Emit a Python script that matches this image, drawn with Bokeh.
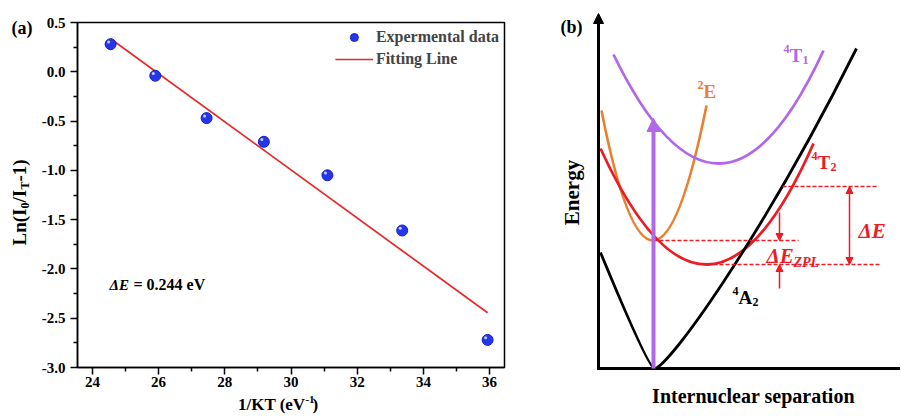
import math
from bokeh.plotting import figure
from bokeh.layouts import row, column
from bokeh.models import (Range1d, FixedTicker, NumeralTickFormatter, Label, Arrow,
                          NormalHead, Legend, LegendItem)
from bokeh.embed import file_html
from bokeh.resources import INLINE

# ---------------- panel (a) data ----------------
inv_kt = [24.55, 25.90, 27.45, 29.18, 31.10, 33.36, 35.94]
ln_ratio = [0.28, -0.04, -0.47, -0.71, -1.05, -1.61, -2.72]
fit_x = [24.55, 35.94]
fit_y = [0.335, -2.445]
x_major = [24, 26, 28, 30, 32, 34, 36]
x_minor = [25, 27, 29, 31, 33, 35]
y_major = [0.5, 0.0, -0.5, -1.0, -1.5, -2.0, -2.5, -3.0]
y_minor = [0.25, -0.25, -0.75, -1.25, -1.75, -2.25, -2.75]
delta_e_text = "= 0.244 eV"

# ---------------- panel (b) schematic data (separation, energy) ----------------
# parabolic curves as quadratic Bezier: start, control, end
t1_curve = dict(x0=[15], y0=[314], cx=[122], cy=[94], x1=[225], y1=[318])
e2_curve = dict(x0=[3], y0=[258], cx=[54.5], cy=[-4.5], x1=[108], y1=[263])
t2_curve = dict(x0=[2], y0=[220], cx=[109.5], cy=[-14.5], x1=[215], y1=[225])
a2_left = dict(x0=[2], y0=[116], cx=[50], cy=[0], x1=[56], y1=[0])
a2_right = dict(x0=[56], y0=[0], cx0=[69], cy0=[0], cx1=[162], cy1=[128], x1=[258], y1=[320])
# dashed levels: x start, x end, energy
lvl_x0 = [184, 55, 109]
lvl_x1 = [280, 200, 281]
lvl_y = [182, 128, 104]
excite_x, excite_y0, excite_y1 = 55, 0, 250

SERIF = "Liberation Serif"
PURPLE = "#B168E8"
ORANGE = "#E9802F"
RED = "#EC1C24"
BLUE = "#2536EA"
ang = math.pi / 2


def bare(width, height, xr, yr):
    f = figure(width=width, height=height, x_range=Range1d(*xr), y_range=Range1d(*yr),
               output_backend="svg", toolbar_location=None, tools="",
               x_axis_type=None, y_axis_type=None,
               min_border_left=0, min_border_right=0, min_border_top=0, min_border_bottom=0)
    f.grid.visible = False
    f.outline_line_color = None
    return f


def lab(p, x, y, text, size, style="bold", color="black", align="left",
        baseline="alphabetic", angle=0.0):
    p.add_layout(Label(x=x, y=y, text=text, text_font=SERIF, text_font_size=size,
                       text_font_style=style, text_color=color, text_align=align,
                       text_baseline=baseline, angle=angle))


# ================= panel (a) =================
XR = (23.55, 36.45)
YR = (-3.0, 0.5)
p1 = figure(width=517, height=393, x_range=Range1d(*XR), y_range=Range1d(*YR),
            output_backend="svg", toolbar_location=None, tools="",
            min_border_left=41, min_border_right=49, min_border_top=22, min_border_bottom=26)
p1.xgrid.visible = False
p1.ygrid.visible = False
p1.outline_line_color = "black"
p1.outline_line_width = 1.5
p1.background_fill_color = "white"

p1.xaxis.ticker = FixedTicker(ticks=x_major, minor_ticks=x_minor)
p1.yaxis.ticker = FixedTicker(ticks=y_major, minor_ticks=y_minor)
p1.yaxis.formatter = NumeralTickFormatter(format="0.0")
for ax in (p1.xaxis[0], p1.yaxis[0]):
    ax.axis_line_width = 1.5
    ax.axis_line_color = "black"
    ax.major_tick_line_width = 1.5
    ax.minor_tick_line_width = 1.5
    ax.major_tick_out = 7
    ax.major_tick_in = 0
    ax.minor_tick_out = 4
    ax.minor_tick_in = 0
    ax.major_label_text_font = SERIF
    ax.major_label_text_font_style = "bold"
    ax.major_label_text_font_size = "15px"
    ax.major_label_text_color = "black"
p1.xaxis.major_label_standoff = 2
p1.yaxis.major_label_standoff = 5

r_fit = p1.line(fit_x, fit_y, line_color="#E8262A", line_width=1.7)
r_sc = p1.scatter(inv_kt, ln_ratio, size=11, fill_color=BLUE, line_color="#1523C0", line_width=1)
p1.scatter([v - 0.06 for v in inv_kt], [v + 0.022 for v in ln_ratio], size=3,
           fill_color="#C8D0FF", line_color=None)

legend = Legend(items=[LegendItem(label="Expermental data", renderers=[r_sc]),
                       LegendItem(label="Fitting Line", renderers=[r_fit])],
                location="top_right", margin=0, padding=5, spacing=2,
                glyph_width=38, glyph_height=20, label_height=20, label_standoff=3,
                label_text_font=SERIF, label_text_font_style="bold",
                label_text_font_size="16px", border_line_alpha=0, background_fill_alpha=0)
p1.add_layout(legend)


def ax_x(px):
    return XR[0] + (px - 77) * (XR[1] - XR[0]) / 427.0


def ax_y(py):
    return YR[1] - (py - 22) * (YR[1] - YR[0]) / 345.0


lab(p1, ax_x(109), ax_y(284), "\u0394E", "15px", style="bold italic")
lab(p1, ax_x(133), ax_y(284), delta_e_text, "16px")

# strip left of panel (a): "(a)" and rotated y label Ln(I0/IT-1) (page pixel coords)
ys = bare(36, 416, (0, 36), (416, 0))
lab(ys, 11, 27, "(a)", "18px")
yl_x = 19
lab(ys, yl_x, 245, "Ln(I", "19px", baseline="middle", angle=ang)
lab(ys, yl_x + 5, 208, "0", "12px", baseline="middle", angle=ang)
lab(ys, yl_x, 202, "/I", "19px", baseline="middle", angle=ang)
lab(ys, yl_x + 5, 189, "T", "12px", baseline="middle", angle=ang)
lab(ys, yl_x, 181, "-1)", "19px", baseline="middle", angle=ang)

# strip below panel (a): x label 1/KT (eV^-1)
xs = bare(517, 23, (36, 553), (416, 393))
lab(xs, 312, 404, "1/KT (eV", "17px", align="right", baseline="middle")
lab(xs, 312, 399, "-1", "11px", baseline="middle")
lab(xs, 320.5, 404, ")", "17px", baseline="middle")

# ================= panel (b) =================
p2 = bare(347, 416, (-45, 302), (-48, 368))

p2.quadratic(**e2_curve, line_color=ORANGE, line_width=2.6)
p2.quadratic(**t1_curve, line_color=PURPLE, line_width=2.8)
p2.quadratic(**t2_curve, line_color=RED, line_width=2.8)
p2.quadratic(**a2_left, line_color="black", line_width=2.8)
p2.bezier(**a2_right, line_color="black", line_width=2.8)

p2.segment(x0=lvl_x0, y0=lvl_y, x1=lvl_x1, y1=lvl_y, line_color=RED, line_width=1.5,
           line_dash="4 2")

# axes of the diagram
p2.segment(x0=[-1.5], y0=[0], x1=[302], y1=[0], line_color="black", line_width=3)
p2.add_layout(Arrow(x_start=0, y_start=-1.5, x_end=0, y_end=355, line_color="black",
                    line_width=3,
                    end=NormalHead(size=10, fill_color="black", line_color="black", line_width=1)))

# excitation arrow
p2.add_layout(Arrow(x_start=excite_x, y_start=excite_y0, x_end=excite_x, y_end=excite_y1,
                    line_color=PURPLE, line_width=4,
                    end=NormalHead(size=13, fill_color=PURPLE, line_color=PURPLE, line_width=1)))

# red energy-gap arrows
head = dict(size=7, fill_color=RED, line_color=RED, line_width=1)
p2.add_layout(Arrow(x_start=251, y_start=lvl_y[2], x_end=251, y_end=lvl_y[0],
                    line_color=RED, line_width=1.5,
                    start=NormalHead(**head), end=NormalHead(**head)))
p2.add_layout(Arrow(x_start=181, y_start=156, x_end=181, y_end=lvl_y[1],
                    line_color=RED, line_width=1.5, end=NormalHead(**head)))
p2.add_layout(Arrow(x_start=181, y_start=80, x_end=181, y_end=lvl_y[2],
                    line_color=RED, line_width=1.5, end=NormalHead(**head)))

# texts
lab(p2, -38, 342, "(b)", "18px")
lab(p2, -27, 176, "Energy", "21px", align="center", baseline="middle", angle=ang)
lab(p2, 155, -27, "Internuclear separation", "20px", align="center", baseline="middle")


def term(x, y, sup, main, sub, color, size=19, small=12, sub_dx=13):
    lab(p2, x, y + 7, sup, f"{small}px", color=color, align="right")
    lab(p2, x, y, main, f"{size}px", color=color)
    if sub:
        lab(p2, x + sub_dx, y - 4, sub, f"{small}px", color=color)


term(191, 313, "4", "T", "1", PURPLE)
term(219, 206, "4", "T", "2", RED)
term(140, 71, "4", "A", "2", "black", sub_dx=14)
term(105, 277, "2", "E", None, ORANGE)

lab(p2, 260, 138, "\u0394E", "21px", style="bold italic", color=RED)
lab(p2, 168, 113, "\u0394E", "21px", style="bold italic", color=RED)
lab(p2, 195, 106, "ZPL", "14px", style="bold italic", color=RED)

layout = row(ys, column(p1, xs), p2)
open("out.html", "w").write(file_html(layout, INLINE))
